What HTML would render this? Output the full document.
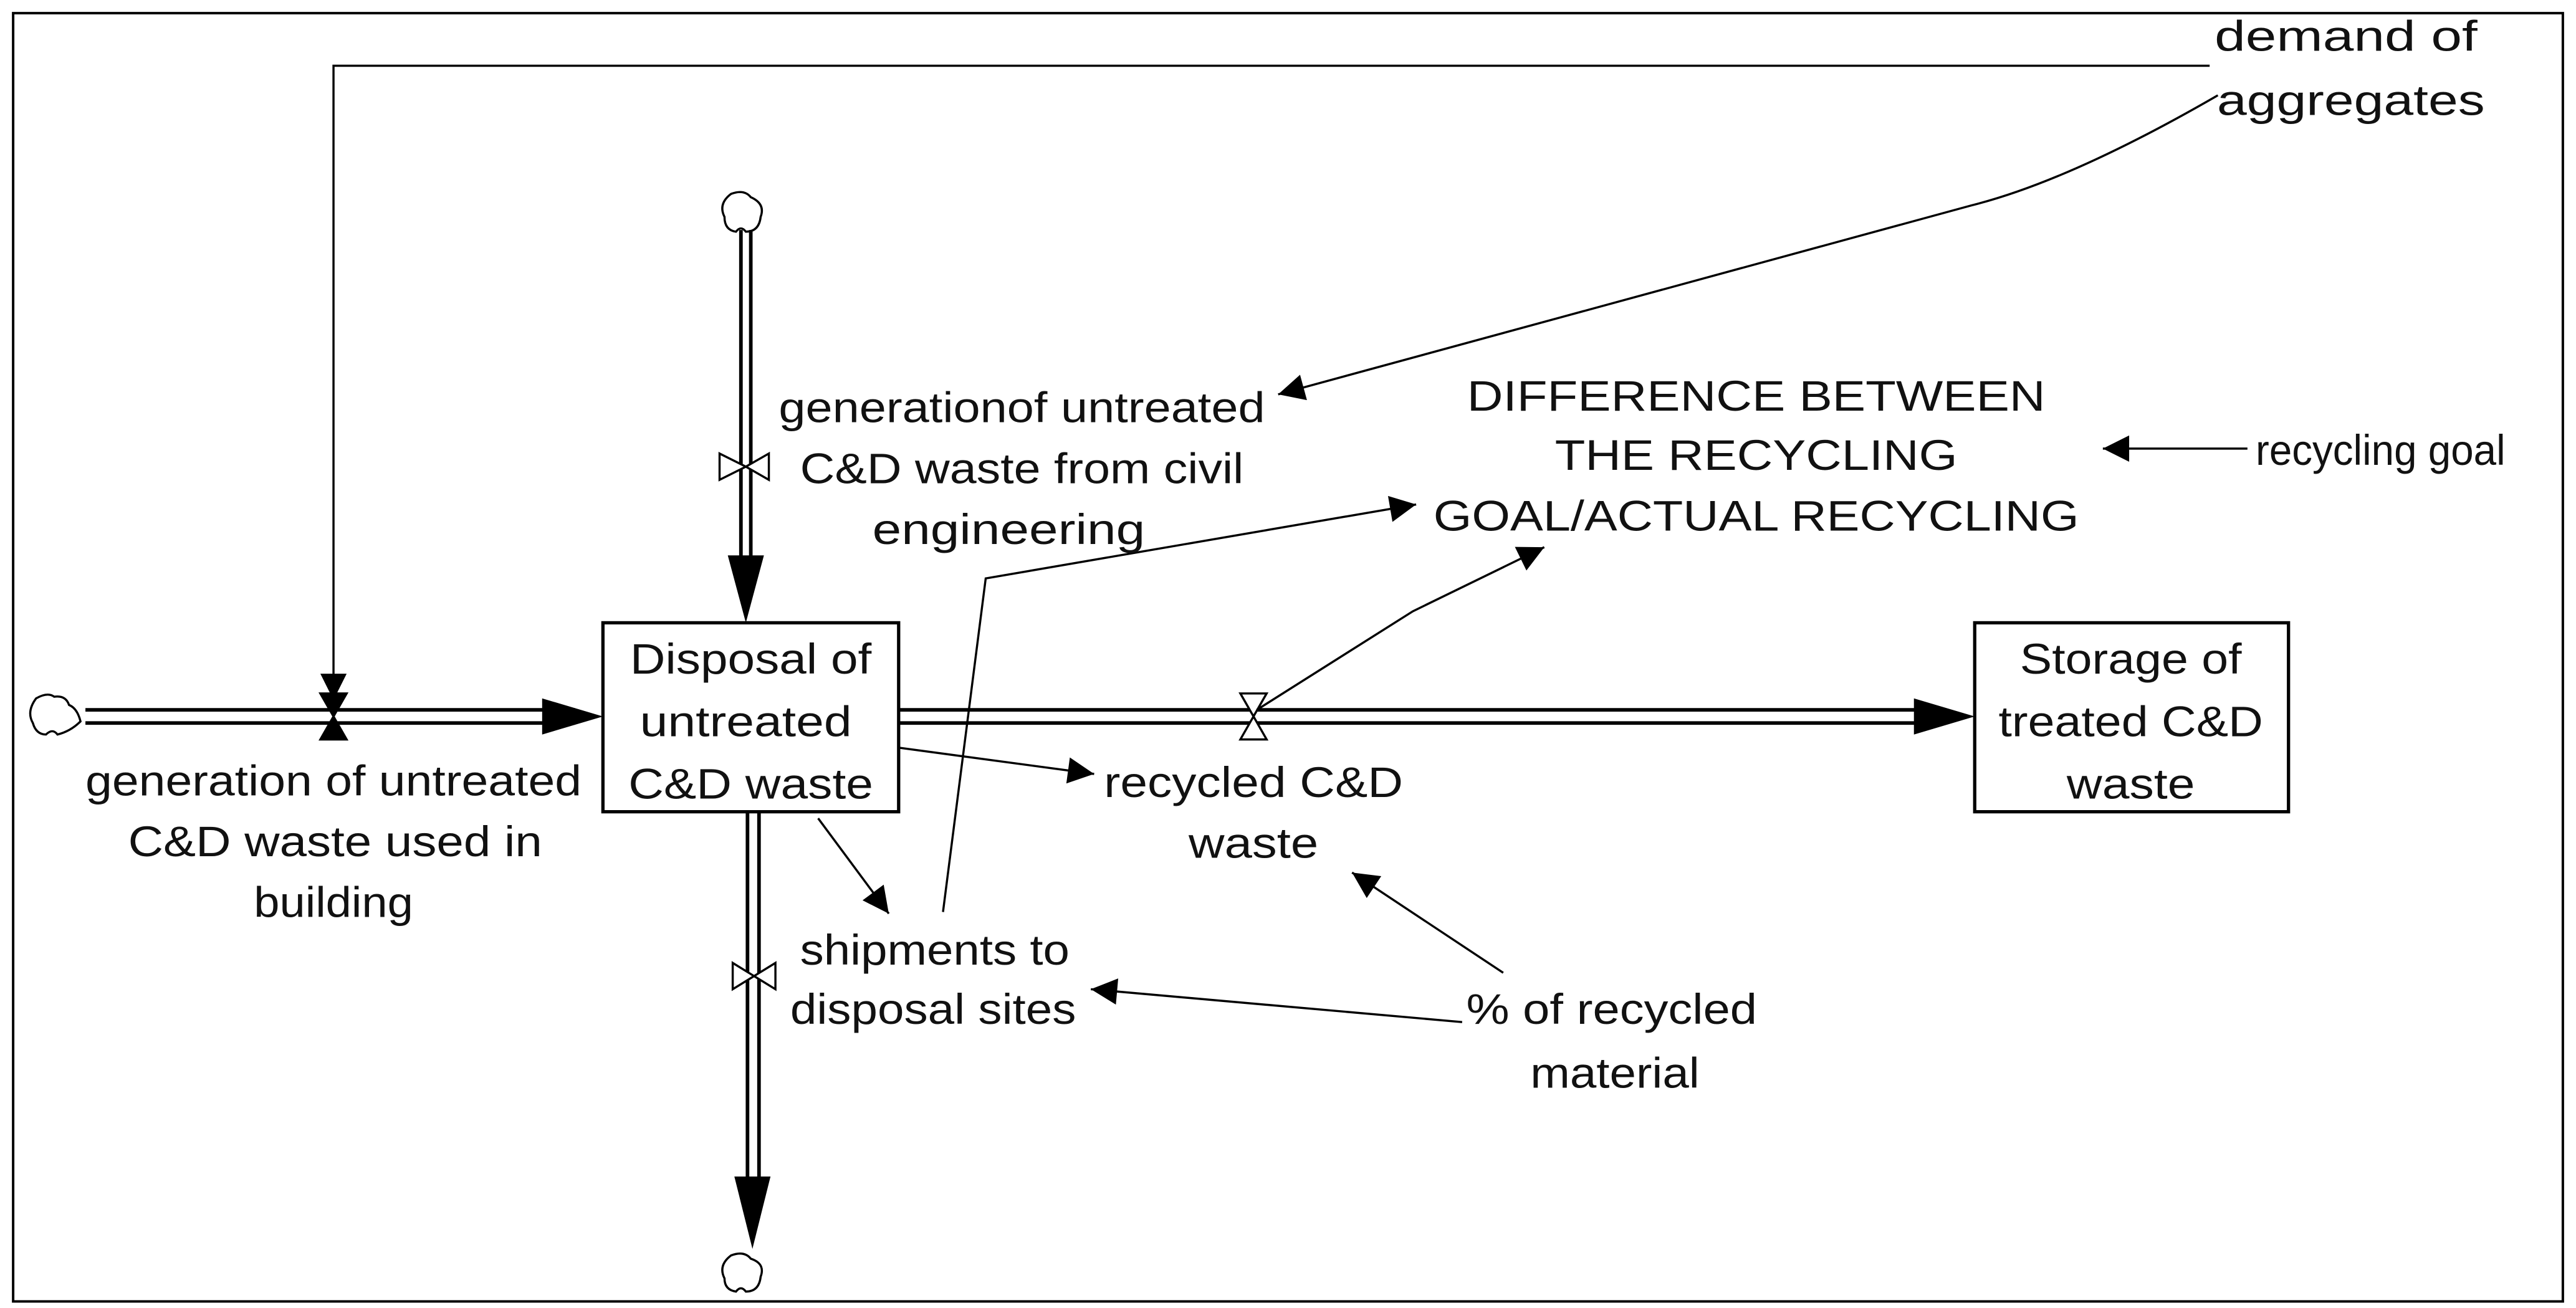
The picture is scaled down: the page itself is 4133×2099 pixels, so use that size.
<!DOCTYPE html>
<html><head><meta charset="utf-8"><style>
html,body{margin:0;padding:0;background:#fff;}
svg{display:block;}
text{font-family:"Liberation Sans",Arial,sans-serif;font-size:26px;fill:#111;}
</style></head><body>
<svg width="4133" height="2099" viewBox="0 0 1568 796" preserveAspectRatio="none" xmlns="http://www.w3.org/2000/svg">
<defs>
<marker id="a" viewBox="0 0 10 10" refX="10" refY="5" markerWidth="22" markerHeight="16" markerUnits="userSpaceOnUse" orient="auto"><path d="M0,0 L10,5 L0,10 z" fill="#000"/></marker>
</defs>
<rect x="8" y="8" width="1552" height="784" fill="none" stroke="#000" stroke-width="1.5"/>

<!-- clouds -->
<g fill="#fff" stroke="#000" stroke-width="1.3">
<path d="M22,425 q-6,8 -2,15 q2,7 8,7 q4,-4 7,0 q8,-2 14,-8 q-2,-8 -7,-10 q-2,-6 -9,-5 q-4,-3 -11,1 z"/>
<path d="M445,118 q-8,6 -4,14 q0,8 7,9 q3,-4 6,0 q8,0 9,-9 q3,-8 -6,-12 q-4,-5 -12,-2 z"/>
<path d="M445,764 q-8,6 -4,14 q0,7 7,8 q3,-4 6,0 q8,0 9,-9 q3,-8 -6,-11 q-4,-5 -12,-2 z"/>
</g>

<!-- pipes -->
<g stroke="#000" stroke-width="2.2" fill="none">
<line x1="52" y1="432" x2="350" y2="432"/><line x1="52" y1="440" x2="350" y2="440"/>
<line x1="547" y1="432" x2="1175" y2="432"/><line x1="547" y1="440" x2="1175" y2="440"/>
<line x1="451" y1="140" x2="451" y2="345"/><line x1="457" y1="140" x2="457" y2="345"/>
<line x1="455" y1="494" x2="455" y2="725"/><line x1="462" y1="494" x2="462" y2="725"/>
</g>
<g fill="#000">
<path d="M330,425 L367,436 L330,447 z"/>
<path d="M1165,425 L1202,436 L1165,447 z"/>
<path d="M443,338 L454,379 L465,338 z"/>
<path d="M447,716 L458,760 L469,716 z"/>
</g>

<!-- valves -->
<g fill="#fff" stroke="#000" stroke-width="1.3">
<path d="M195,422 L211,422 L203,436 z M195,450 L211,450 L203,436 z" fill="#000"/>
<path d="M755,422 L771,422 L763,436 z M755,450 L771,450 L763,436 z"/>
<path d="M438,276 L438,292 L454,284 z M468,276 L468,292 L454,284 z"/>
<path d="M446,586 L446,602 L459,594 z M472,586 L472,602 L459,594 z"/>
</g>

<!-- boxes -->
<rect x="367" y="379" width="180" height="115" fill="#fff" stroke="#000" stroke-width="2"/>
<rect x="1202" y="379" width="191" height="115" fill="#fff" stroke="#000" stroke-width="2"/>

<!-- links -->
<g stroke="#000" stroke-width="1.3" fill="none" marker-end="url(#a)">
<path d="M1345,40 L203,40 L203,426"/>
<path d="M1350,58 Q1260,110 1200,125 L778,240"/>
<line x1="1368" y1="273" x2="1280" y2="273"/>
<path d="M574,555 L600,352 L862,307"/>
<path d="M765,432 L860,372 L940,333"/>
<line x1="547" y1="455" x2="666" y2="471"/>
<line x1="498" y1="498" x2="541" y2="556"/>
<line x1="915" y1="592" x2="823" y2="531"/>
<line x1="890" y1="622" x2="664" y2="602"/>
</g>

<!-- labels -->
<g text-anchor="middle">
<text x="203" y="484" textLength="302" lengthAdjust="spacingAndGlyphs">generation of untreated</text>
<text x="204" y="521" textLength="252" lengthAdjust="spacingAndGlyphs">C&amp;D waste used in</text>
<text x="203" y="558" textLength="97" lengthAdjust="spacingAndGlyphs">building</text>

<text x="457" y="410" textLength="147" lengthAdjust="spacingAndGlyphs">Disposal of</text>
<text x="454" y="448" textLength="129" lengthAdjust="spacingAndGlyphs">untreated</text>
<text x="457" y="486" textLength="149" lengthAdjust="spacingAndGlyphs">C&amp;D waste</text>

<text x="1297" y="410" textLength="135" lengthAdjust="spacingAndGlyphs">Storage of</text>
<text x="1297" y="448" textLength="161" lengthAdjust="spacingAndGlyphs">treated C&amp;D</text>
<text x="1297" y="486" textLength="78" lengthAdjust="spacingAndGlyphs">waste</text>

<text x="622" y="257" textLength="296" lengthAdjust="spacingAndGlyphs">generationof untreated</text>
<text x="622" y="294" textLength="270" lengthAdjust="spacingAndGlyphs">C&amp;D waste from civil</text>
<text x="614" y="331" textLength="166" lengthAdjust="spacingAndGlyphs">engineering</text>

<text x="1069" y="250" textLength="352" lengthAdjust="spacingAndGlyphs">DIFFERENCE BETWEEN</text>
<text x="1069" y="286" textLength="245" lengthAdjust="spacingAndGlyphs">THE RECYCLING</text>
<text x="1069" y="323" textLength="393" lengthAdjust="spacingAndGlyphs">GOAL/ACTUAL RECYCLING</text>

<text x="1449" y="283" textLength="152" lengthAdjust="spacingAndGlyphs">recycling goal</text>
<text x="1428" y="31" textLength="160" lengthAdjust="spacingAndGlyphs">demand of</text>
<text x="1431" y="70" textLength="163" lengthAdjust="spacingAndGlyphs">aggregates</text>

<text x="763" y="485" textLength="182" lengthAdjust="spacingAndGlyphs">recycled C&amp;D</text>
<text x="763" y="522" textLength="79" lengthAdjust="spacingAndGlyphs">waste</text>

<text x="569" y="587" textLength="164" lengthAdjust="spacingAndGlyphs">shipments to</text>
<text x="568" y="623" textLength="174" lengthAdjust="spacingAndGlyphs">disposal sites</text>

<text x="981" y="623" textLength="177" lengthAdjust="spacingAndGlyphs">% of recycled</text>
<text x="983" y="662" textLength="103" lengthAdjust="spacingAndGlyphs">material</text>
</g>
</svg>
</body></html>
